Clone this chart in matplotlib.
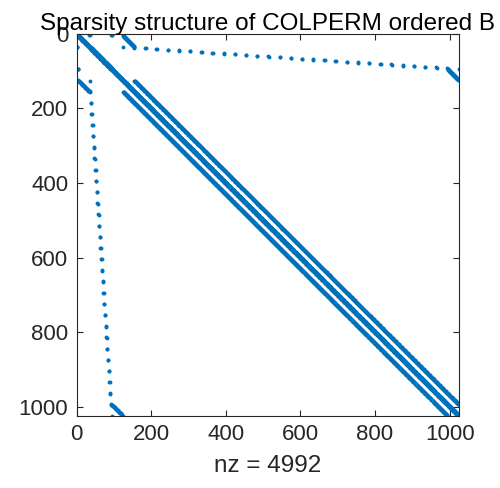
import numpy as np
import matplotlib
matplotlib.use("Agg")
import matplotlib.pyplot as plt

# 5-point Laplacian on a 32x32 grid (nz = 4992), columns reordered by nonzero count
grid_n = 32
stencil = [(0, 0), (-1, 0), (1, 0), (0, -1), (0, 1)]
title = "Sparsity structure of COLPERM ordered B"
xticks = [0, 200, 400, 600, 800, 1000]
yticks = [0, 200, 400, 600, 800, 1000]

blue = "#0072BD"
grey = "#262626"
plt.rcParams['font.family'] = ['Liberation Sans', 'DejaVu Sans']

# build sparsity pattern (nodes numbered column-wise)
node = np.arange(grid_n * grid_n).reshape(grid_n, grid_n, order='F')
rows, cols = [], []
for i in range(grid_n):
    for j in range(grid_n):
        for di, dj in stencil:
            a, b = i + di, j + dj
            if 0 <= a < grid_n and 0 <= b < grid_n:
                rows.append(node[i, j])
                cols.append(node[a, b])
rows = np.array(rows)
cols = np.array(cols)

# colperm: stable sort of columns by number of nonzeros
counts = np.bincount(cols, minlength=grid_n * grid_n)
perm = np.argsort(counts, kind='stable')
inv = np.empty_like(perm)
inv[perm] = np.arange(len(perm))
r = inv[rows] + 1
c = inv[cols] + 1
n = grid_n * grid_n

fig = plt.figure(figsize=(5, 4.88), dpi=100)
ax = fig.add_axes([0.153, 0.1475, 0.765, 0.783])
ax.plot(c, r, 'o', color=blue, markersize=2.8, markeredgewidth=0, linestyle='none')

ax.set_xlim(0, n + 1)
ax.set_ylim(n + 1, 0)
ax.set_xticks(xticks)
ax.set_yticks(yticks)
ax.tick_params(direction='in', length=4, width=0.8, colors=grey, labelsize=16,
               top=True, right=True, pad=6)
for s in ax.spines.values():
    s.set_color(grey)
    s.set_linewidth(0.8)

ax.set_title(title, fontsize=17.5, color='black', pad=3)
ax.set_xlabel("nz = %d" % len(r), fontsize=17.5, color=grey, labelpad=7)

fig.savefig("out.png", dpi=100)
